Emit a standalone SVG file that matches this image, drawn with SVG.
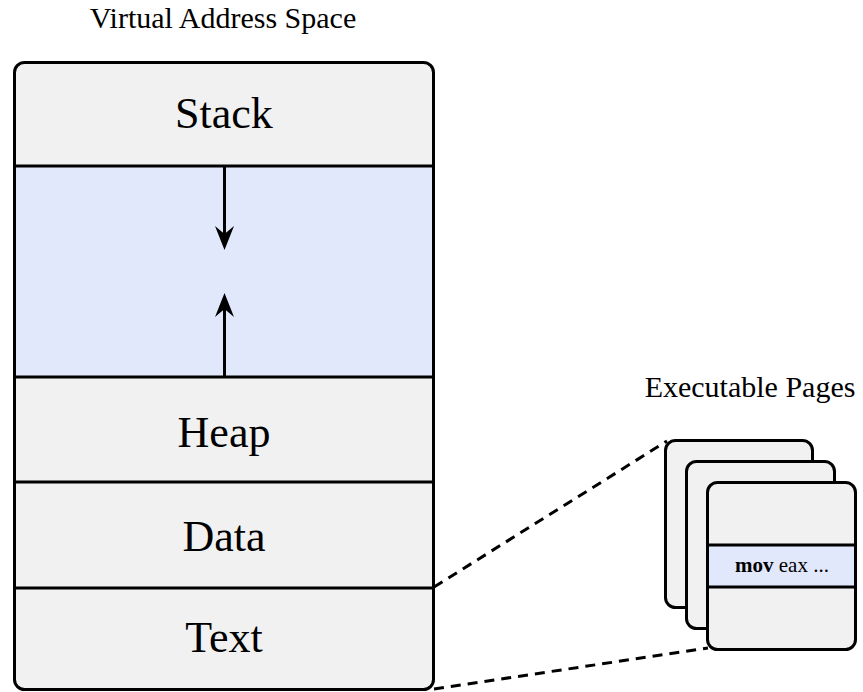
<svg xmlns="http://www.w3.org/2000/svg" width="863" height="692" viewBox="0 0 863 692">
<defs>
<style>
.box{fill:#f1f1f1;stroke:#000;stroke-width:3}
.band{fill:#e2e8fb;stroke:none}
.div{stroke:#000;stroke-width:3;fill:none}
.lbl{font-family:"Liberation Serif",serif;font-size:44px;fill:#000;text-anchor:middle}
.title{font-family:"Liberation Serif",serif;font-size:30px;fill:#000;text-anchor:middle}
.code{font-family:"Liberation Serif",serif;font-size:21px;fill:#000;text-anchor:middle}
.dash{stroke:#000;stroke-width:3;stroke-dasharray:10 7;fill:none}
.arr{stroke:#000;stroke-width:3;fill:none}
</style>
<marker id="head" markerUnits="userSpaceOnUse" markerWidth="30" markerHeight="24" viewBox="-20 -12 30 24" refX="0" refY="0" orient="auto" overflow="visible">
<path d="M6,0 L-18,-9.5 L-10,0 L-18,9.5 Z" fill="#000"/>
</marker>
</defs>
<rect width="863" height="692" fill="#fff"/>
<text class="title" x="223" y="28">Virtual Address Space</text>
<text class="title" x="750" y="397">Executable Pages</text>
<g id="connectors">
<path class="dash" d="M434,587 L667,441"/>
<path class="dash" d="M434,689 L708,648"/>
</g>
<g id="address-space">
<rect class="box" x="14.5" y="62.5" width="419" height="627" rx="10"/>
<rect class="band" x="16" y="166" width="416" height="211"/>
<line class="div" x1="14.5" y1="166" x2="433.5" y2="166"/>
<line class="div" x1="14.5" y1="377" x2="433.5" y2="377"/>
<line class="div" x1="14.5" y1="482" x2="433.5" y2="482"/>
<line class="div" x1="14.5" y1="588" x2="433.5" y2="588"/>
</g>
<g id="stack"><text class="lbl" x="224" y="128">Stack</text></g>
<g id="growth">
<path class="arr" d="M224.5,167 L224.5,244" marker-end="url(#head)"/>
<path class="arr" d="M224.5,376 L224.5,299" marker-end="url(#head)"/>
</g>
<g id="heap"><text class="lbl" x="224" y="447">Heap</text></g>
<g id="data"><text class="lbl" x="224" y="551">Data</text></g>
<g id="text"><text class="lbl" x="224" y="652">Text</text></g>
<g id="page1"><rect class="box" x="665.5" y="440.5" width="147" height="167" rx="10"/></g>
<g id="page2"><rect class="box" x="686.5" y="461.5" width="148" height="167" rx="10"/></g>
<g id="page3">
<rect class="box" x="707.5" y="482.5" width="148" height="167" rx="10"/>
<rect class="band" x="709" y="545" width="145" height="42"/>
<line class="div" x1="707.5" y1="545" x2="855.5" y2="545"/>
<line class="div" x1="707.5" y1="587" x2="855.5" y2="587"/>
<text class="code" x="782" y="572"><tspan font-weight="bold">mov</tspan> eax ...</text>
</g>
</svg>
